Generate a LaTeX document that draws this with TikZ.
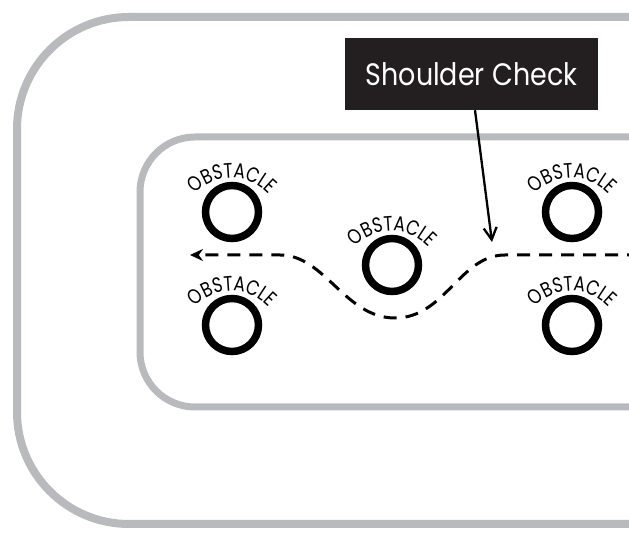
\documentclass[tikz,border=0pt]{standalone}
\usepackage{fontspec}
\newfontfamily\obsfont[FakeStretch=0.8]{Poppins}
\newfontfamily\callfont[FakeStretch=0.87]{Poppins}
\usetikzlibrary{arrows.meta,decorations.text}
\definecolor{trackgray}{RGB}{185,186,189}
\definecolor{boxblack}{RGB}{35,31,32}
\tikzset{
  track/.style={draw=trackgray,line width=8pt,line cap=round},
  ring/.style={draw=black,line width=7.5pt,circle,minimum size=53pt,inner sep=0pt},
  route/.style={draw=black,line width=3pt,dash pattern=on 13pt off 9pt,-{Stealth[length=13pt,width=12pt]}},
  callout/.style={fill=boxblack,text=white,minimum width=253pt,minimum height=72pt,inner sep=0pt},
  pointer/.style={draw=black,line width=2.3pt,-{Straight Barb[length=12pt,width=13pt,line width=2.3pt]}}
}
\newcommand{\obstacle}[3]{%
  \node[ring] (#1) at (#2,#3) {};
  \path[decorate,decoration={text along path,text align=center,
    text={|\obsfont\fontsize{21}{21}\selectfont|OBSTACLE}}]
    (#2,#3-16) ++(145:50) arc[start angle=145,end angle=35,radius=50];
}
\begin{document}
\begin{tikzpicture}[x=1pt,y=1pt]
\useasboundingbox (0,0) rectangle (629,538);
% tracks
\draw[track,rounded corners=112pt] (650,521) -- (17,521) -- (17,14) -- (650,14);
\draw[track,line width=7pt,rounded corners=55pt] (650,401) -- (140,401) -- (140,131) -- (650,131);
% obstacles
\obstacle{A}{232}{326}
\obstacle{B}{232}{213}
\obstacle{C}{392}{273}
\obstacle{D}{572}{326}
\obstacle{E}{572}{213}
% route
\coordinate (rstart) at (640,283);
\coordinate (rend) at (190,283);
\draw[route] (rstart) -- (505,283) .. controls (460,283) and (445,220) .. (395,220)
  .. controls (345,220) and (325,283) .. (280,283) -- (rend);
% callout
\node[callout] (box) at (471.5,464) {\callfont\fontsize{31}{31}\selectfont Shoulder Check};
\coordinate (tip) at (492,296);
\draw[pointer] (box.south -| 475,0) -- (tip);
\end{tikzpicture}
\end{document}
